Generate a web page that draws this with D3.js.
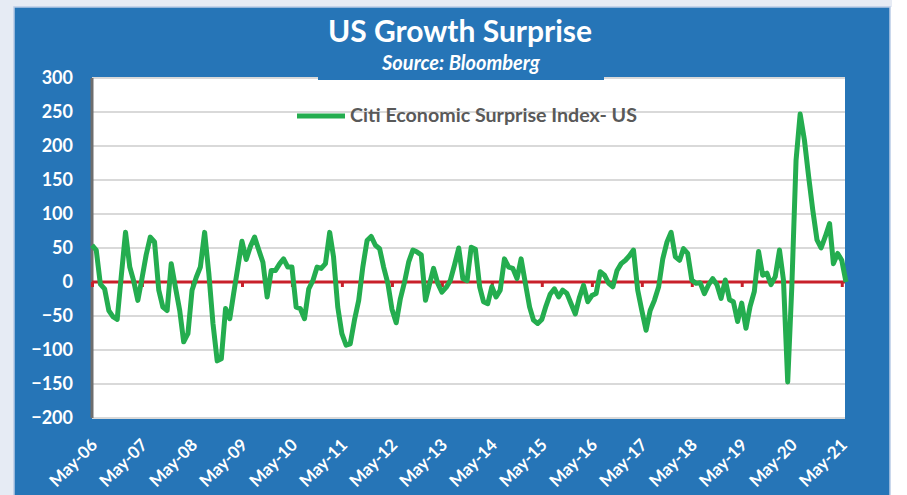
<!DOCTYPE html>
<html>
<head>
<meta charset="utf-8">
<script src="https://cdn.jsdelivr.net/npm/d3@7"></script>
<style>
  html, body { margin: 0; padding: 0; background: #ffffff; }
  svg { display: block; font-family: Lato, "Open Sans", sans-serif; }
</style>
</head>
<body>
<svg id="chart" width="907" height="495"></svg>
<script>
// ---- data (monthly, May-2006 .. Jun-2021) ----
const startMonth = [2006, 4];
const surpriseValues = [
  54, 47, -3, -10, -42, -51, -55, 9, 73, 22, 2, -27,
  5, 40, 66, 59, -12, -37, -42, 27, -8, -42, -88, -76,
  -12, 7, 22, 73, 12, -61, -116, -113, -39, -54, -17, 22,
  60, 33, 52, 66, 47, 29, -22, 17, 17, 27, 34, 22,
  22, -37, -39, -54, -10, 2, 22, 20, 27, 73, 37, -37,
  -76, -93, -91, -56, -27, 22, 61, 67, 54, 49, 22, -2,
  -40, -60, -25, 0, 30, 47, 44, 40, -27, -2, 20, -2,
  -15, -8, 2, 25, 50, 5, 2, 51, 48, -7, -29, -32,
  -7, -22, -12, 34, 22, 20, 5, 34, -2, -37, -56, -61,
  -55, -35, -18, -10, -22, -12, -17, -32, -47, -22, -5, -29,
  -20, -17, 15, 10, -2, -7, 17, 27, 32, 39, 47, -12,
  -42, -71, -42, -27, -7, 34, 59, 73, 37, 32, 49, 42,
  3, -2, -1, -17, -4, 5, -4, -24, 3, -26, -29, -58,
  -31, -68, -36, -14, 45, 10, 13, -4, 8, 47, 3, -147,
  -7, 179, 247, 209, 155, 106, 62, 50, 67, 86, 27, 42,
  32, 0
];
const yTicks = [-200, -150, -100, -50, 0, 50, 100, 150, 200, 250, 300];
const tickYears = [2006, 2007, 2008, 2009, 2010, 2011, 2012, 2013, 2014, 2015, 2016, 2017, 2018, 2019, 2020, 2021];
const titleText = "US Growth Surprise";
const subtitleText = "Source: Bloomberg";
const seriesName = "Citi Economic Surprise Index- US";

// ---- layout ----
const svg = d3.select("#chart");
const plot = { left: 92, right: 846, top: 78, bottom: 418 };
const blue = "#2675b7";

const dates = surpriseValues.map((v, i) => d3.timeMonth.offset(new Date(startMonth[0], startMonth[1], 1), i));
const data = surpriseValues.map((v, i) => ({ date: dates[i], value: v }));

const x = d3.scaleTime()
  .domain([dates[0], dates[dates.length - 1]])
  .range([plot.left, plot.right]);
const y = d3.scaleLinear().domain([-200, 300]).range([plot.bottom, plot.top]);

// background frame
svg.append("rect").attr("x", 0).attr("y", 0).attr("width", 907).attr("height", 495).attr("fill", "#ffffff");
svg.append("rect").attr("x", 0).attr("y", 0).attr("width", 14).attr("height", 495).attr("fill", "#e6ebf4");
svg.append("rect").attr("x", 0).attr("y", 0).attr("width", 892).attr("height", 7).attr("fill", "#e6ebf4");
svg.append("rect").attr("x", 14).attr("y", 7).attr("width", 876).attr("height", 490)
  .attr("fill", blue).attr("stroke", "#b9cbe6").attr("stroke-width", 1.5);

// plot area
svg.append("rect")
  .attr("x", plot.left).attr("y", plot.top)
  .attr("width", 845 - plot.left).attr("height", plot.bottom - plot.top)
  .attr("fill", "#ffffff");

// gridlines
svg.append("g")
  .selectAll("line").data(yTicks).join("line")
  .attr("x1", plot.left).attr("x2", 845)
  .attr("y1", d => y(d)).attr("y2", d => y(d))
  .attr("stroke", "#d9d9d9").attr("stroke-width", 2);

// left axis line
svg.append("line")
  .attr("x1", plot.left).attr("x2", plot.left)
  .attr("y1", plot.top).attr("y2", plot.bottom)
  .attr("stroke", "#6e6e6e").attr("stroke-width", 3);

// y labels
const yAxis = svg.append("g")
  .attr("transform", `translate(${plot.left},0)`)
  .call(d3.axisLeft(y).tickValues(yTicks).tickSize(0).tickPadding(19));
yAxis.select(".domain").remove();
yAxis.selectAll("text")
  .attr("fill", "#ffffff").attr("font-size", 18).attr("font-weight", 700)
  .attr("font-family", "Lato, sans-serif");

// zero (red) axis with year ticks
const tickDates = tickYears.map(yr => new Date(yr, 4, 1));
const zeroAxis = svg.append("g")
  .attr("transform", `translate(0,${y(0)})`)
  .call(d3.axisBottom(x).tickValues(tickDates).tickSize(5).tickFormat(""));
zeroAxis.select(".domain")
  .attr("d", `M${plot.left},0H845`)
  .attr("stroke", "#c8202a").attr("stroke-width", 3);
zeroAxis.selectAll(".tick line").attr("stroke", "#c8202a").attr("stroke-width", 3);

// x labels
const xAxis = svg.append("g")
  .attr("transform", `translate(0,${plot.bottom})`)
  .call(d3.axisBottom(x).tickValues(tickDates).tickSize(0).tickFormat(d3.timeFormat("%b-%y")));
xAxis.select(".domain").remove();
xAxis.selectAll("text")
  .attr("x", 0).attr("y", 0).attr("dy", 0)
  .attr("text-anchor", "end")
  .attr("transform", "translate(6,28) rotate(-45)")
  .attr("fill", "#ffffff").attr("font-size", 17).attr("font-weight", 700)
  .attr("font-family", "Lato, sans-serif");

// series line
const line = d3.line().x(d => x(d.date)).y(d => y(d.value));
svg.append("path")
  .datum(data)
  .attr("d", line)
  .attr("fill", "none")
  .attr("stroke", "#24ad4f")
  .attr("stroke-width", 5)
  .attr("stroke-linejoin", "round");

// legend
svg.append("line")
  .attr("x1", 297).attr("x2", 345).attr("y1", 116).attr("y2", 116)
  .attr("stroke", "#24ad4f").attr("stroke-width", 5);
svg.append("text")
  .attr("x", 350).attr("y", 122)
  .attr("fill", "#595959").attr("font-size", 19).attr("font-weight", 700)
  .attr("textLength", 287).attr("lengthAdjust", "spacingAndGlyphs")
  .text(seriesName);

// title & subtitle box
svg.append("rect")
  .attr("x", 318).attr("y", 48).attr("width", 286).attr("height", 32)
  .attr("fill", blue);
svg.append("text")
  .attr("x", 460).attr("y", 42).attr("text-anchor", "middle")
  .attr("fill", "#ffffff").attr("font-size", 30).attr("font-weight", 700)
  .text(titleText);
svg.append("text")
  .attr("x", 461).attr("y", 70).attr("text-anchor", "middle")
  .attr("fill", "#ffffff").attr("font-size", 20).attr("font-weight", 700)
  .attr("font-style", "italic")
  .text(subtitleText);
</script>
</body>
</html>
